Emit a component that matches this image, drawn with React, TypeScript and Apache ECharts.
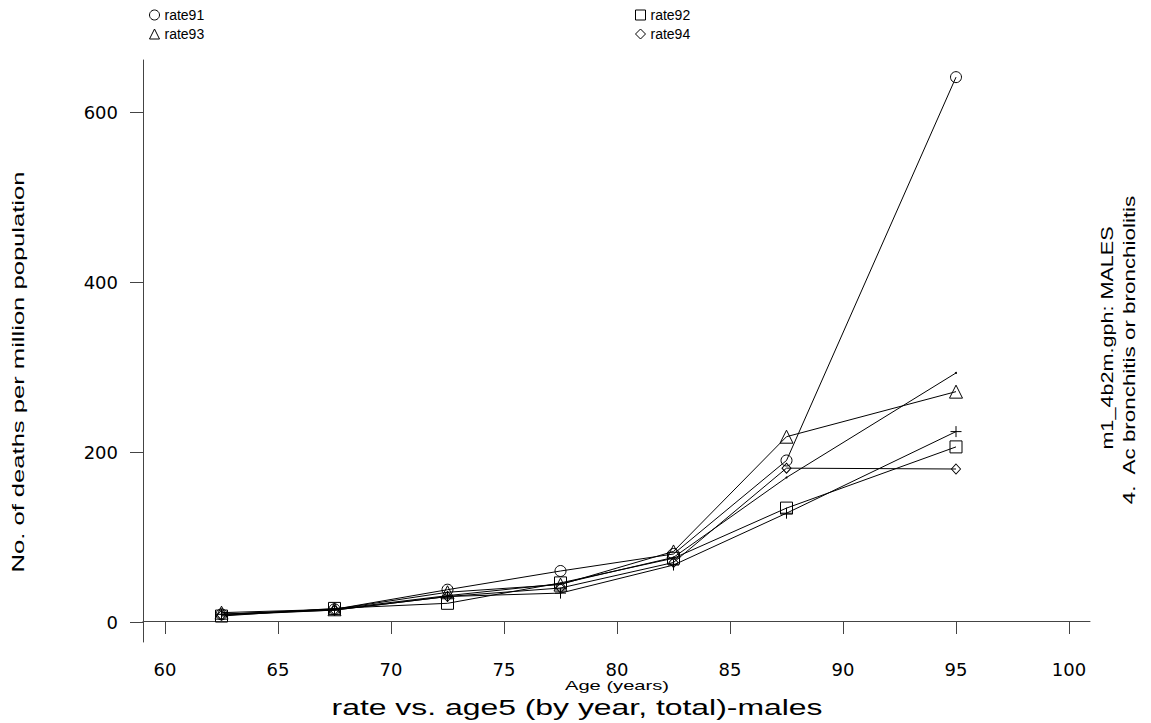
import React, { useEffect, useRef } from "react";
import * as echarts from "echarts";

// Age-group midpoints (years)
const ages = [62.5, 67.5, 72.5, 77.5, 82.5, 87.5, 95];

// Deaths per million population, by year
const rate91 = [9, 15, 38, 60, 80, 190, 641];
const rate92 = [7, 16, 22, 46, 75, 134, 206];
const rate93 = [11, 15, 35, 44, 83, 218, 271];
const rate94 = [8, 14, 30, 40, 70, 181, 180];
const rate95 = [9, 14, 30, 34, 67, 128, 224];
const total = [9, 15, 31, 45, 76, 170, 293];

const xMin = 60;
const xMax = 100;
const xStep = 5;
const yMin = 0;
const yMax = 600;
const yStep = 200;

const titleText = "rate vs. age5 (by year, total)-males";
const xTitle = "Age (years)";
const yTitle = "No. of deaths per million population";
const note1 = "m1_4b2m.gph: MALES";
const note2 = "4.  Ac bronchitis or bronchiolitis";

const PLUS = "path://M6 0 L6 12 M0 6 L12 6";

const seriesDefs = [
  { name: "rate91", data: rate91, symbol: "circle", size: 11 },
  { name: "rate92", data: rate92, symbol: "rect", size: 12 },
  { name: "rate93", data: rate93, symbol: "triangle", size: 13 },
  { name: "rate94", data: rate94, symbol: "diamond", size: [9, 10] },
  { name: "rate95", data: rate95, symbol: PLUS, size: 11 },
  { name: "total", data: total, symbol: "circle", size: 2 },
];

const AX = "#444";
const SANS = "'Liberation Sans', Arial, sans-serif";
const WIDE = "'DejaVu Sans', sans-serif";

export default function App() {
  const ref = useRef<HTMLDivElement>(null);
  useEffect(() => {
    if (!ref.current) return;
    const chart = echarts.init(ref.current, undefined, { renderer: "svg" });
    const legendCommon = {
      orient: "vertical",
      top: 3,
      itemGap: 5,
      itemWidth: 10,
      itemHeight: 10,
      selectedMode: false,
      textStyle: { fontFamily: SANS, fontSize: 14, color: "#000" },
      itemStyle: { color: "rgba(0,0,0,0)", borderColor: "#000", borderWidth: 1 },
    };
    chart.setOption({
      animation: false,
      backgroundColor: "#fff",
      legend: [
        {
          ...legendCommon,
          left: 144,
          data: [
            { name: "rate91", icon: "circle" },
            { name: "rate93", icon: "triangle" },
          ],
        },
        {
          ...legendCommon,
          left: 630,
          data: [
            { name: "rate92", icon: "rect" },
            { name: "rate94", icon: "diamond" },
          ],
        },
      ],
      grid: [
        { left: 143, top: 60, width: 947, height: 582 },
        { left: 165, top: 112, width: 904, height: 510 },
      ],
      xAxis: [
        {
          gridIndex: 0,
          type: "value",
          min: 59,
          max: 101,
          axisLine: { show: true, lineStyle: { color: AX, width: 1 } },
          axisTick: { show: false },
          axisLabel: { show: false },
          splitLine: { show: false },
        },
        {
          gridIndex: 1,
          type: "value",
          min: xMin,
          max: xMax,
          interval: xStep,
          position: "bottom",
          offset: 20,
          axisLine: { show: false },
          axisTick: { show: true, length: 12, lineStyle: { color: AX } },
          axisLabel: { margin: 18, fontFamily: WIDE, fontSize: 18, color: "#000" },
          splitLine: { show: false },
        },
      ],
      yAxis: [
        {
          gridIndex: 0,
          type: "value",
          min: -24,
          max: 661,
          axisLine: { show: true, lineStyle: { color: AX, width: 1 } },
          axisTick: { show: false },
          axisLabel: { show: false },
          splitLine: { show: false },
        },
        {
          gridIndex: 1,
          type: "value",
          min: yMin,
          max: yMax,
          interval: yStep,
          position: "left",
          offset: 22,
          axisLine: { show: false },
          axisTick: { show: true, length: 13, lineStyle: { color: AX } },
          axisLabel: { margin: 25, fontFamily: WIDE, fontSize: 18, color: "#000" },
          splitLine: { show: false },
        },
      ],
      series: seriesDefs.map((s) => ({
        name: s.name,
        type: "line",
        xAxisIndex: 1,
        yAxisIndex: 1,
        data: ages.map((a, i) => [a, s.data[i]]),
        symbol: s.symbol,
        symbolSize: s.size,
        showAllSymbol: true,
        clip: false,
        lineStyle: { color: "#000", width: 1 },
        itemStyle:
          s.name === "total"
            ? { color: "#000", borderColor: "#000", borderWidth: 0 }
            : { color: "rgba(0,0,0,0)", borderColor: "#000", borderWidth: 1 },
        emphasis: { disabled: true },
        z: 3,
      })),
      graphic: [
        {
          type: "text",
          x: 19,
          y: 372,
          rotation: Math.PI / 2,
          scaleX: 1.6,
          style: { text: yTitle, fontFamily: SANS, fontSize: 16, fill: "#000", align: "center", verticalAlign: "middle" },
        },
        {
          type: "text",
          x: 617,
          y: 686,
          scaleX: 1.55,
          style: { text: xTitle, fontFamily: SANS, fontSize: 13, fill: "#000", align: "center", verticalAlign: "middle" },
        },
        {
          type: "text",
          x: 577,
          y: 707,
          scaleX: 1.45,
          style: { text: titleText, fontFamily: SANS, fontSize: 22, fill: "#000", align: "center", verticalAlign: "middle" },
        },
        {
          type: "text",
          x: 1108,
          y: 338,
          rotation: Math.PI / 2,
          scaleX: 1.35,
          style: { text: note1, fontFamily: SANS, fontSize: 16, fill: "#000", align: "center", verticalAlign: "middle" },
        },
        {
          type: "text",
          x: 1129,
          y: 350,
          rotation: Math.PI / 2,
          scaleX: 1.4,
          style: { text: note2, fontFamily: SANS, fontSize: 16, fill: "#000", align: "center", verticalAlign: "middle" },
        },
      ],
    });
    return () => chart.dispose();
  }, []);
  return (
    <div
      ref={ref}
      style={{ position: "fixed", left: 0, top: 0, width: 1151, height: 723, background: "#fff" }}
    />
  );
}
